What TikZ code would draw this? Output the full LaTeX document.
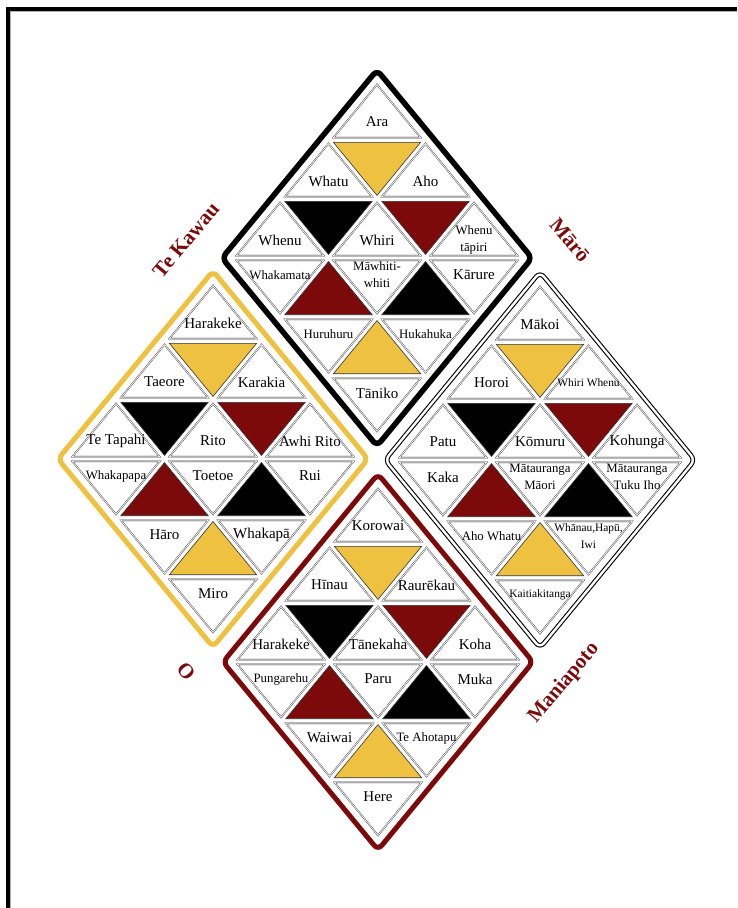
\documentclass[tikz,border=0pt]{standalone}
\usepackage{fontspec}
\setmainfont{Liberation Serif}
\usepackage{tikz}
\definecolor{kowhai}{HTML}{EFC140}
\definecolor{whero}{HTML}{7D0A0B}
\newcommand\cellsm{\fontsize{12.8}{15.5}\selectfont}
\newcommand\cellxs{\fontsize{11.4}{14.5}\selectfont}

\begin{document}
\begin{tikzpicture}[x=1pt,y=-1pt,
  cell/.style={draw=black!90,line width=0.35pt,double=white,double distance=0.8pt,fill=white},
  tint/.style={draw=black!80,line width=0.6pt,fill=#1},
  word/.style={inner sep=0pt,align=center,font=\fontsize{15}{17}\selectfont},
  rim/.style={line width=5pt,rounded corners=6pt},
  title/.style={inner sep=0pt,text=whero,font=\fontsize{21}{21}\selectfont\bfseries}]
\useasboundingbox (0,0) rectangle (737,908);

% frame
\draw[line width=3.5pt] (7.8,908) -- (7.8,9) -- (737,9);
\draw[black!30,line width=0.8pt] (10.6,908) -- (10.6,11.8) -- (737,11.8);

% rims
\draw[rim,draw=black,line width=5.5pt] (299.5,164) -- (377,70) -- (532,258) -- (377,446) -- (222,258) -- cycle;
\draw[rim,draw=kowhai] (135.5,365) -- (213,271) -- (368,459) -- (213,647) -- (58,459) -- cycle;
\draw[rounded corners=6pt,line width=1.1pt,double=white,double distance=2.4pt]
  (462.5,366) -- (540,272) -- (695,460) -- (540,648) -- (385,460) -- cycle;
\draw[rim,draw=whero] (300.5,568) -- (378,474) -- (533,662) -- (378,850) -- (223,662) -- cycle;

% coloured cells, same in every diamond
\foreach \X/\Y in {377/258,213/459,540/460,378/662}
  \foreach \c/\r/\d/\f in {0/1/-1/kowhai,-1/2/-1/black,1/2/-1/whero,-1/3/1/whero,1/3/1/black,0/4/1/kowhai}
    \draw[tint=\f,shift={({\X+\c*48.5},{\Y-147.5+\r*59+6.6*(\d)})}]
      (0,{-32.5*(\d)}) -- (43.65,{20.6*(\d)}) -- (-43.65,{20.6*(\d)}) -- cycle;

% top diamond
\begin{scope}[shift={(377,258)}]
\foreach \c/\r/\d/\t [count=\i] in {0/0/1/Ara, -1/1/1/Whatu, 1/1/1/Aho, -2/2/1/Whenu, 0/2/1/Whiri,
    2/2/1/{\cellsm Whenu\\\cellsm tāpiri}, -2/3/-1/{\cellsm Whakamata}, 0/3/-1/{\cellsm Māwhiti-\\\cellsm whiti},
    2/3/-1/Kārure, -1/4/-1/{\cellsm Huruhuru}, 1/4/-1/{\cellsm Hukahuka}, 0/5/-1/Tāniko}{
  \draw[cell,shift={({\c*48.5},{-147.5+\r*59+6.6*(\d)})}]
    (0,{-32.5*(\d)}) -- (43.65,{20.6*(\d)}) -- (-43.65,{20.6*(\d)}) -- cycle;
  \node[word] (top\i) at ({\c*48.5},{-148+\r*59+12*(\d)}) {\t};
}
\end{scope}

% left diamond
\begin{scope}[shift={(213,459)}]
\foreach \c/\r/\d/\t [count=\i] in {0/0/1/Harakeke, -1/1/1/Taeore, 1/1/1/Karakia, -2/2/1/Te Tapahi, 0/2/1/Rito,
    2/2/1/Awhi Rito, -2/3/-1/{\cellsm Whakapapa}, 0/3/-1/Toetoe, 2/3/-1/Rui, -1/4/-1/Hāro,
    1/4/-1/Whakapā, 0/5/-1/Miro}{
  \draw[cell,shift={({\c*48.5},{-147.5+\r*59+6.6*(\d)})}]
    (0,{-32.5*(\d)}) -- (43.65,{20.6*(\d)}) -- (-43.65,{20.6*(\d)}) -- cycle;
  \node[word] (left\i) at ({\c*48.5},{-148+\r*59+12*(\d)}) {\t};
}
\end{scope}

% right diamond
\begin{scope}[shift={(540,460)}]
\foreach \c/\r/\d/\t [count=\i] in {0/0/1/Mākoi, -1/1/1/Horoi, 1/1/1/{\cellxs Whiri Whenu}, -2/2/1/Patu,
    0/2/1/Kōmuru, 2/2/1/Kohunga, -2/3/-1/Kaka, 0/3/-1/{\cellsm Mātauranga\\\cellsm Māori},
    2/3/-1/{\cellsm Mātauranga\\\cellsm Tuku Iho}, -1/4/-1/{\cellsm Aho Whatu},
    1/4/-1/{\cellxs Whānau,Hapū,\\\cellxs Iwi}, 0/5/-1/{\cellxs Kaitiakitanga}}{
  \draw[cell,shift={({\c*48.5},{-147.5+\r*59+6.6*(\d)})}]
    (0,{-32.5*(\d)}) -- (43.65,{20.6*(\d)}) -- (-43.65,{20.6*(\d)}) -- cycle;
  \node[word] (right\i) at ({\c*48.5},{-148+\r*59+12*(\d)}) {\t};
}
\end{scope}

% bottom diamond
\begin{scope}[shift={(378,662)}]
\foreach \c/\r/\d/\t [count=\i] in {0/0/1/Korowai, -1/1/1/Hīnau, 1/1/1/Raurēkau, -2/2/1/Harakeke,
    0/2/1/Tānekaha, 2/2/1/Koha, -2/3/-1/{\cellsm Pungarehu}, 0/3/-1/Paru, 2/3/-1/Muka,
    -1/4/-1/Waiwai, 1/4/-1/{\cellsm Te Ahotapu}, 0/5/-1/Here}{
  \draw[cell,shift={({\c*48.5},{-147.5+\r*59+6.6*(\d)})}]
    (0,{-32.5*(\d)}) -- (43.65,{20.6*(\d)}) -- (-43.65,{20.6*(\d)}) -- cycle;
  \node[word] (bottom\i) at ({\c*48.5},{-148+\r*59+12*(\d)}) {\t};
}
\end{scope}

% names round the pattern
\node[title,rotate=50] (kawau) at (186,240) {Te Kawau};
\node[title,rotate=-50] (maro) at (570,240) {Mārō};
\node[title,rotate=-50] (oword) at (186,671) {O};
\node[title,rotate=50] (maniapoto) at (564,683) {Maniapoto};
\end{tikzpicture}
\end{document}
